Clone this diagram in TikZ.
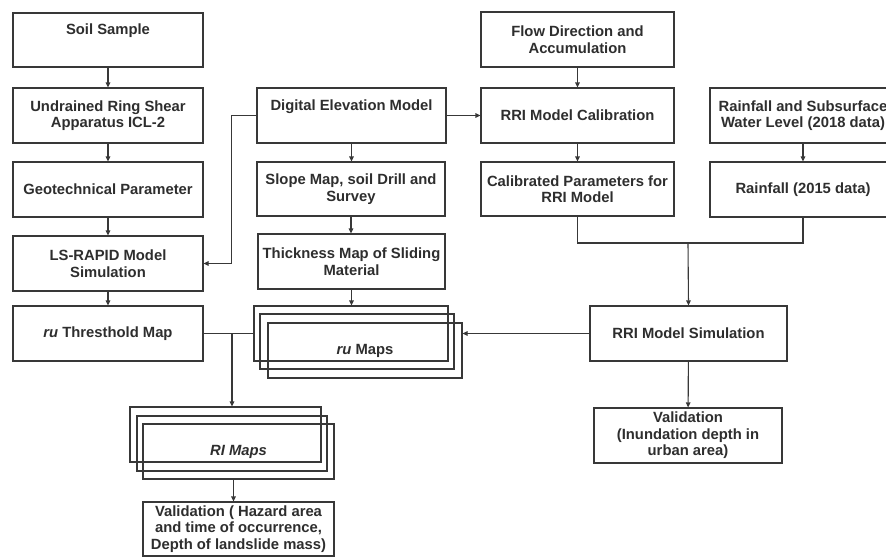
\documentclass[tikz,border=0pt]{standalone}
\usepackage{fontspec}
\setmainfont{Liberation Sans}
\usetikzlibrary{arrows.meta}
\definecolor{linec}{HTML}{383838}
\definecolor{textc}{HTML}{2E2E2E}
\begin{document}
\begin{tikzpicture}[x=1pt,y=-1pt,
  box/.style={draw=linec, line width=1.1pt, rectangle, inner sep=0pt, align=center,
    font=\bfseries\fontsize{14.8}{16.5}\selectfont, text=textc},
  sz/.style 2 args={minimum width=#1, minimum height=#2},
  conn/.style={draw=linec, line width=1.1pt},
  arr/.style={conn, -{Triangle[length=5pt,width=4.5pt]}}]
\useasboundingbox (0,0) rectangle (886,557);
\clip (0,0) rectangle (886,557);
\fill[white] (0,0) rectangle (886,557);
% left column
\node[box, sz={190}{54}] (soil) at (108,40) {Soil Sample\\\strut};
\node[box, sz={190}{55}] (undr) at (108,115.5) {Undrained Ring Shear\\Apparatus ICL-2};
\node[box, sz={190}{55}] (geo) at (108,189.5) {Geotechnical Parameter};
\node[box, sz={190}{55}] (ls) at (108,263.5) {LS-RAPID Model\\Simulation};
\node[box, sz={190}{55}] (ruthr) at (108,333.5) {{\itshape ru} Thresthold Map};
% middle column
\node[box, sz={189}{55}] (dem) at (351.5,115.5) {Digital Elevation Model\\\strut};
\node[box, sz={188}{54}] (slope) at (351,189) {Slope Map, soil Drill and\\Survey};
\node[box, sz={187}{55}] (thick) at (351.5,261.5) {Thickness Map of Sliding\\Material};
\node[box, sz={194}{55}] (m1) at (351,333.5) {};
\node[box, sz={194}{55}] (m2) at (357,341.5) {};
\node[box, sz={194}{55}] (m3) at (365,350.5) {{\itshape ru} Maps};
% right columns
\node[box, sz={193}{55}] (flow) at (577.5,39.5) {Flow Direction and\\Accumulation};
\node[box, sz={193}{55}] (calib) at (577.5,115.5) {RRI Model Calibration};
\node[box, sz={193}{54}] (calpar) at (577.5,189) {Calibrated Parameters for\\RRI Model};
\node[box, sz={186}{55}] (rainsub) at (803,115.5) {Rainfall and Subsurface\\Water Level (2018 data)};
\node[box, sz={186}{55}] (rain15) at (803,189.5) {Rainfall (2015 data)};
\node[box, sz={197}{55}] (rrisim) at (688.5,333.5) {RRI Model Simulation};
\node[box, sz={188}{55}] (valin) at (688,435.5) {Validation\\(Inundation depth in\\urban area)};
% RI maps
\node[box, sz={191}{55}] (r1) at (225.5,434.5) {};
\node[box, sz={190}{55}] (r2) at (232,443.5) {};
\node[box, sz={191}{55}] (r3) at (238.5,451.5) {\itshape RI Maps};
\node[box, sz={191}{54}] (valhaz) at (238.5,529) {Validation ( Hazard area\\and time of occurrence,\\Depth of landslide mass)};
% junctions
\coordinate (jm) at (688,243);
\coordinate (jr) at (232,333.5);
% connectors
\draw[arr] (soil) -- (undr);
\draw[arr] (undr) -- (geo);
\draw[arr] (geo) -- (ls);
\draw[arr] (ls) -- (ruthr);
\draw[arr] (dem.west) -- ++(-25,0) |- (ls.east);
\draw[arr] (dem.south) -- (dem.south |- slope.north);
\draw[arr] (slope.south) -- (slope.south |- thick.north);
\draw[arr] (thick.south) -- (thick.south |- m1.north);
\draw[arr] (dem.east) -- (calib.west);
\draw[arr] (flow) -- (calib);
\draw[arr] (calib) -- (calpar);
\draw[arr] (rainsub) -- (rain15);
\draw[conn] (calpar.south) |- (jm) -| (rain15.south);
\draw[arr] (jm) -- (rrisim.north);
\draw[arr] (rrisim.west) -- (rrisim.west -| m3.east);
\draw[arr] (rrisim) -- (valin);
\draw[conn] (ruthr.east) -- (ruthr.east -| m1.west);
\draw[arr] (jr) -- (jr |- r1.north);
\draw[arr] ([xshift=-5pt]r3.south) -- ([xshift=-5pt]valhaz.north);
\end{tikzpicture}
\end{document}
